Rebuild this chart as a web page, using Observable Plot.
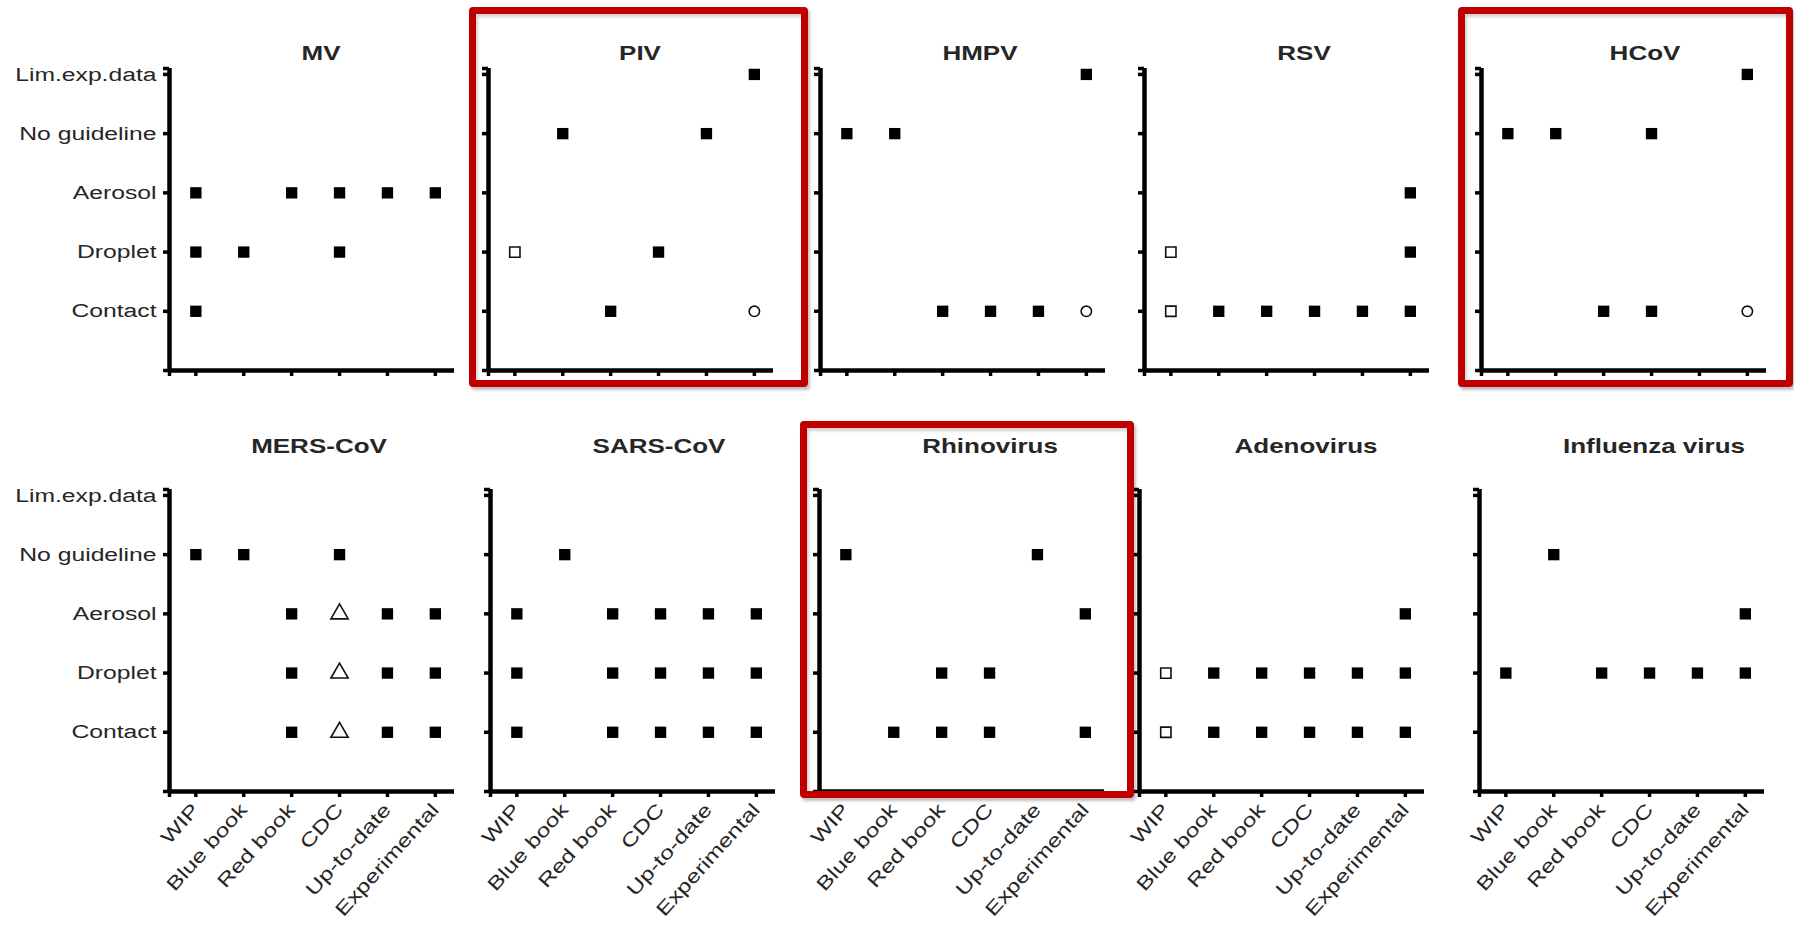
<!DOCTYPE html>
<html><head><meta charset="utf-8">
<script src="https://cdn.jsdelivr.net/npm/d3@7"></script>
<script src="https://cdn.jsdelivr.net/npm/@observablehq/plot@0.6"></script>
<style>
body{margin:0;background:#fff;}
#chart{position:relative;width:1794px;height:926px;background:#fff;overflow:hidden;}
.panel{position:absolute;}
.panel svg{overflow:visible;}
.hl{position:absolute;box-sizing:border-box;border:7px solid #c00000;border-radius:4px;
  box-shadow:2px 3px 3px rgba(0,0,0,0.25), inset 2px 3px 3px rgba(0,0,0,0.18);pointer-events:none;}
</style></head><body><div id="chart"></div>
<script>
// ---- data ----
const sources = ["WIP","Blue book","Red book","CDC","Up-to-date","Experimental"];
const routes = ["Contact","Droplet","Aerosol","No guideline","Lim.exp.data"];
const viruses = ["MV","PIV","HMPV","RSV","HCoV","MERS-CoV","SARS-CoV","Rhinovirus","Adenovirus","Influenza virus"];
// entries: [source, route, marker]; marker: filled square | open square | open circle | open triangle
const MV = [
  ["WIP","Aerosol","filled"],["Red book","Aerosol","filled"],["CDC","Aerosol","filled"],["Up-to-date","Aerosol","filled"],["Experimental","Aerosol","filled"],
  ["WIP","Droplet","filled"],["Blue book","Droplet","filled"],["CDC","Droplet","filled"],
  ["WIP","Contact","filled"]];
const PIV = [
  ["Experimental","Lim.exp.data","filled"],
  ["Blue book","No guideline","filled"],["Up-to-date","No guideline","filled"],
  ["WIP","Droplet","open"],["CDC","Droplet","filled"],
  ["Red book","Contact","filled"],["Experimental","Contact","circle"]];
const HMPV = [
  ["Experimental","Lim.exp.data","filled"],
  ["WIP","No guideline","filled"],["Blue book","No guideline","filled"],
  ["Red book","Contact","filled"],["CDC","Contact","filled"],["Up-to-date","Contact","filled"],["Experimental","Contact","circle"]];
const RSV = [
  ["Experimental","Aerosol","filled"],
  ["WIP","Droplet","open"],["Experimental","Droplet","filled"],
  ["WIP","Contact","open"],["Blue book","Contact","filled"],["Red book","Contact","filled"],["CDC","Contact","filled"],["Up-to-date","Contact","filled"],["Experimental","Contact","filled"]];
const HCoV = [
  ["Experimental","Lim.exp.data","filled"],
  ["WIP","No guideline","filled"],["Blue book","No guideline","filled"],["CDC","No guideline","filled"],
  ["Red book","Contact","filled"],["CDC","Contact","filled"],["Experimental","Contact","circle"]];
const MERS = [
  ["WIP","No guideline","filled"],["Blue book","No guideline","filled"],["CDC","No guideline","filled"],
  ["Red book","Aerosol","filled"],["CDC","Aerosol","triangle"],["Up-to-date","Aerosol","filled"],["Experimental","Aerosol","filled"],
  ["Red book","Droplet","filled"],["CDC","Droplet","triangle"],["Up-to-date","Droplet","filled"],["Experimental","Droplet","filled"],
  ["Red book","Contact","filled"],["CDC","Contact","triangle"],["Up-to-date","Contact","filled"],["Experimental","Contact","filled"]];
const SARS = [
  ["Blue book","No guideline","filled"],
  ["WIP","Aerosol","filled"],["Red book","Aerosol","filled"],["CDC","Aerosol","filled"],["Up-to-date","Aerosol","filled"],["Experimental","Aerosol","filled"],
  ["WIP","Droplet","filled"],["Red book","Droplet","filled"],["CDC","Droplet","filled"],["Up-to-date","Droplet","filled"],["Experimental","Droplet","filled"],
  ["WIP","Contact","filled"],["Red book","Contact","filled"],["CDC","Contact","filled"],["Up-to-date","Contact","filled"],["Experimental","Contact","filled"]];
const Rhino = [
  ["WIP","No guideline","filled"],["Up-to-date","No guideline","filled"],
  ["Experimental","Aerosol","filled"],
  ["Red book","Droplet","filled"],["CDC","Droplet","filled"],
  ["Blue book","Contact","filled"],["Red book","Contact","filled"],["CDC","Contact","filled"],["Experimental","Contact","filled"]];
const Adeno = [
  ["Experimental","Aerosol","filled"],
  ["WIP","Droplet","open"],["Blue book","Droplet","filled"],["Red book","Droplet","filled"],["CDC","Droplet","filled"],["Up-to-date","Droplet","filled"],["Experimental","Droplet","filled"],
  ["WIP","Contact","open"],["Blue book","Contact","filled"],["Red book","Contact","filled"],["CDC","Contact","filled"],["Up-to-date","Contact","filled"],["Experimental","Contact","filled"]];
const Flu = [
  ["Blue book","No guideline","filled"],
  ["Experimental","Aerosol","filled"],
  ["WIP","Droplet","filled"],["Red book","Droplet","filled"],["CDC","Droplet","filled"],["Up-to-date","Droplet","filled"],["Experimental","Droplet","filled"]];
const panelData = [MV, PIV, HMPV, RSV, HCoV, MERS, SARS, Rhino, Adeno, Flu];

// ---- layout (positions / styles only) ----
const layout = [
  {x0:169,row:0,tdx:9},{x0:488,row:0,tdx:9},{x0:820,row:0,tdx:17},{x0:1144,row:0,tdx:17},{x0:1481,row:0,tdx:21},
  {x0:169,row:1,tdx:7},{x0:490,row:1,tdx:26},{x0:819,row:1,tdx:28},{x0:1139,row:1,tdx:24},{x0:1479,row:1,tdx:32}];
const rowTop = [2, 423];
const titleDy = [-15, -43];
const highlights = [
  {left:469, top:7, w:339, h:380},
  {left:1458, top:7, w:335, h:380},
  {left:800, top:421, w:334, h:377}];
const FONT = '"Liberation Sans", Arial, Helvetica, sans-serif';
const SX = 1.3;

const chart = document.getElementById("chart");

function stretchText(svg) {
  svg.querySelectorAll("text").forEach(t => {
    const xa = t.getAttribute("x");
    const ok = xa != null && !isNaN(+xa);
    const x = ok ? +xa : 0;
    if (ok) t.removeAttribute("x");
    const tr = t.getAttribute("transform") || "";
    t.setAttribute("transform", `${tr} translate(${x},0) scale(${SX},1)`);
    t.setAttribute("fill", "#262626");
  });
}

viruses.forEach((name, i) => {
  const L = layout[i];
  const labelsY = L.x0 < 300;
  const labelsX = L.row === 1;
  const mL = labelsY ? L.x0 : 30;
  const mR = 14;
  const mT = 66;
  const mB = L.row === 0 ? 22 : 137;
  const rows = panelData[i].map(([s, r, m]) => ({x: sources.indexOf(s) + 1, y: routes.indexOf(r) + 1, m}));
  const svg = Plot.plot({
    width: mL + 285 + mR,
    height: mT + 302 + mB,
    marginLeft: mL, marginRight: mR, marginTop: mT, marginBottom: mB,
    style: {fontFamily: FONT, fontSize: "19px", color: "#000", background: "transparent", overflow: "visible"},
    x: {type: "linear", domain: [0.45, 6.4]},
    y: {type: "linear", domain: [0, 5.1]},
    marks: [
      Plot.axisX({ticks: [0.45, 1, 2, 3, 4, 5, 6], label: null, tickSize: 6, strokeWidth: 3.5, tickPadding: 9,
        tickRotate: -48, tickFormat: v => (labelsX && v >= 1) ? sources[v - 1] : ""}),
      Plot.axisY({ticks: [0, 1, 2, 3, 4, 5, 5.1], label: null, tickSize: 6, strokeWidth: 3.5, tickPadding: 7,
        tickFormat: v => (labelsY && Number.isInteger(v) && v >= 1) ? routes[v - 1] : ""}),
      Plot.ruleY([0], {strokeWidth: 4.5, stroke: "#000"}),
      Plot.ruleX([0.45], {strokeWidth: 4.5, stroke: "#000"}),
      Plot.dot(rows.filter(d => d.m === "filled"), {x: "x", y: "y", symbol: "square", r: 6.4, fill: "#000", stroke: null}),
      Plot.dot(rows.filter(d => d.m === "open"), {x: "x", y: "y", symbol: "square", r: 5.8, fill: "#fff", stroke: "#111", strokeWidth: 1.6}),
      Plot.dot(rows.filter(d => d.m === "circle"), {x: "x", y: "y", symbol: "circle", r: 5.2, fill: "#fff", stroke: "#111", strokeWidth: 1.6}),
      Plot.dot(rows.filter(d => d.m === "triangle"), {x: "x", y: "y", symbol: "triangle", r: 6.4, fill: "#fff", stroke: "#111", strokeWidth: 1.6}),
      Plot.text([name], {frameAnchor: "top", dx: L.tdx, dy: titleDy[L.row], lineAnchor: "middle",
        fontWeight: "bold", fontSize: 20})
    ]
  });
  stretchText(svg);
  const div = document.createElement("div");
  div.className = "panel";
  div.style.left = (L.x0 - mL) + "px";
  div.style.top = rowTop[L.row] + "px";
  div.appendChild(svg);
  chart.appendChild(div);
});

highlights.forEach(h => {
  const d = document.createElement("div");
  d.className = "hl";
  d.style.left = h.left + "px"; d.style.top = h.top + "px";
  d.style.width = h.w + "px"; d.style.height = h.h + "px";
  chart.appendChild(d);
});
</script></body></html>
